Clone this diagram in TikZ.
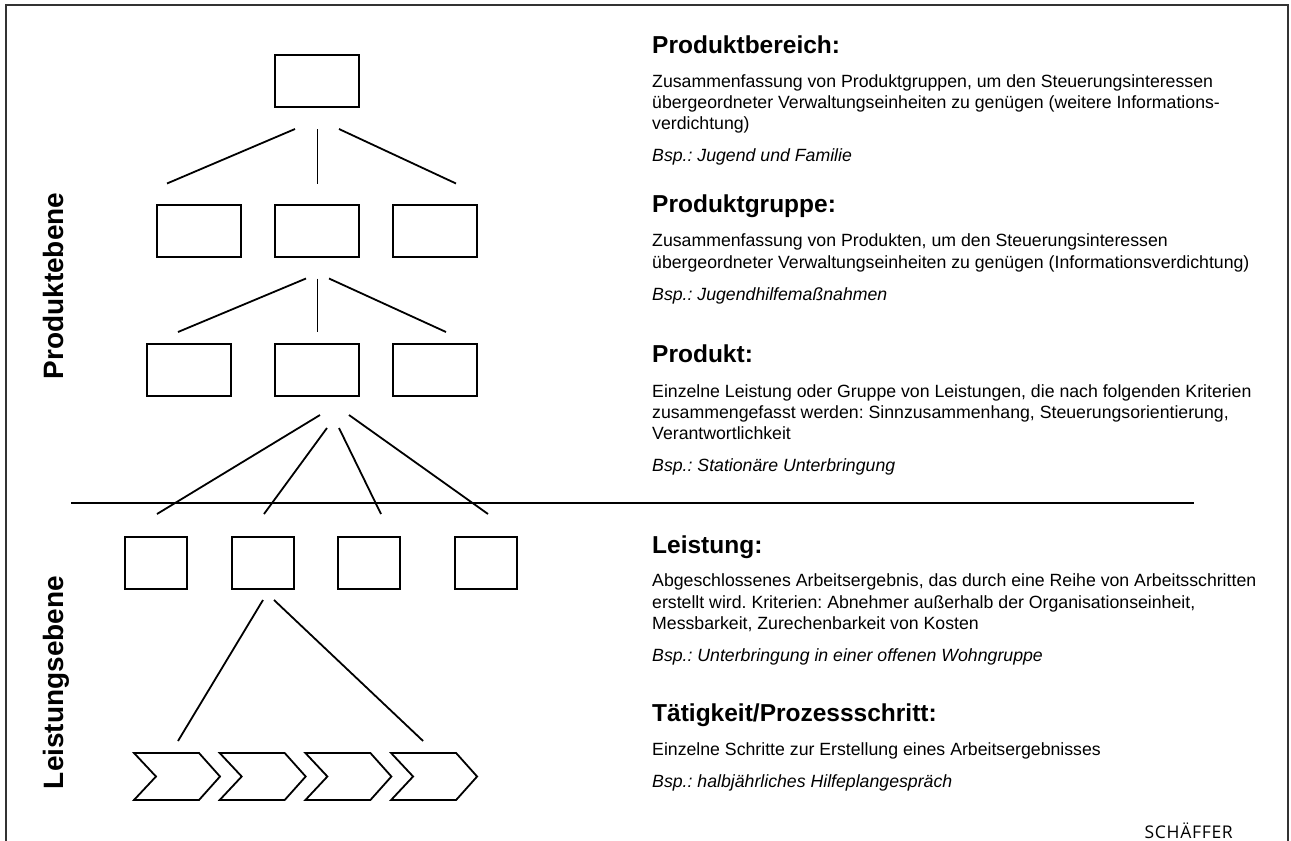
\documentclass[tikz,border=0pt]{standalone}
\usepackage{fontspec}
\setmainfont{Liberation Sans}
\newfontfamily\bodyfont{Liberation Sans}
\newfontfamily\logofont[LetterSpace=4]{Open Sans}
\usetikzlibrary{calc}
\frenchspacing

\begin{document}
\begin{tikzpicture}[x=1pt,y=-1pt,
  box/.style={draw=black,line width=2pt,inner sep=0pt,minimum width=84pt,minimum height=52pt},
  smallbox/.style={box,minimum width=62pt},
  link/.style={line width=1.8pt},
  chevron/.style={line width=1.8pt,line join=miter},
  heading/.style={anchor=base west,inner sep=0pt,font=\fontsize{24.5}{28}\selectfont\bfseries},
  body/.style={anchor=base west,inner sep=0pt,font=\bodyfont\fontsize{17.7}{21}\selectfont},
  example/.style={anchor=base west,inner sep=0pt,font=\bodyfont\fontsize{17.7}{21}\selectfont\itshape},
  level/.style={rotate=90,anchor=base,inner sep=0pt,font=\fontsize{28}{32}\selectfont\bfseries},
  logo/.style={anchor=base east,inner sep=0pt,font=\logofont\fontsize{17.5}{20}\selectfont},
]
\useasboundingbox (0,0) rectangle (1291,841);

% frame, open at the bottom
\draw[line width=2pt,black!80] (6,841) -- (6,5) -- (1288,5) -- (1288,841);

% level labels
\node[level] (pe) at (63,286) {Produktebene};
\node[level] (le) at (63,682.5) {Leistungsebene};

% hierarchy boxes
\node[box] (pb) at (317,81) {};
\node[box] (pg1) at (199,230.5) {};
\node[box] (pg2) at (317,230.5) {};
\node[box] (pg3) at (435,230.5) {};
\node[box] (p1) at (189,370) {};
\node[box] (p2) at (317,370) {};
\node[box] (p3) at (435,370) {};
\node[smallbox] (l1) at (156,562.5) {};
\node[smallbox] (l2) at (262.5,562.5) {};
\node[smallbox] (l3) at (369,562.5) {};
\node[smallbox] (l4) at (486,562.5) {};

% process steps
\foreach \i/\x in {1/134,2/219.7,3/305.4,4/391.1}{
  \draw[chevron] (\x,753) -- ++(65,0) -- ++(21,23.5) -- ++(-21,23.5)
    -- ++(-65,0) -- ++(22,-23.5) -- cycle;
  \coordinate (c\i) at (\x+43,776.5);
}

% connectors
\draw[link] ($(pb.south)+(-22,21)$) -- ($(pg1.north)+(-32,-20)$);
\draw[link] ($(pb.south)+(0.5,21)$) -- ($(pg2.north)+(0.5,-20)$);
\draw[link] ($(pb.south)+(22,21)$) -- ($(pg3.north)+(21,-20)$);

\draw[link] ($(pg2.south)+(-11,21)$) -- ($(p1.north)+(-11,-11)$);
\draw[link] ($(pg2.south)+(0.5,21)$) -- ($(p2.north)+(0.5,-11)$);
\draw[link] ($(pg2.south)+(12,21)$) -- ($(p3.north)+(11,-11)$);

\draw[link] ($(p2.south)+(3,18)$) -- ($(l1.north)+(1,-21.5)$);
\draw[link] ($(p2.south)+(10,31)$) -- ($(l2.north)+(1.5,-21.5)$);
\draw[link] ($(p2.south)+(22,31)$) -- ($(l3.north)+(12,-21.5)$);
\draw[link] ($(p2.south)+(32,18)$) -- ($(l4.north)+(2,-21.5)$);

\draw[link] ($(l2.south)+(0.5,10.5)$) -- ($(c1)+(1,-35.5)$);
\draw[link] ($(l2.south)+(11.5,10.5)$) -- ($(c4)+(-11,-35.5)$);

% separation between product and service level
\coordinate (ruleL) at (71,503);
\coordinate (ruleR) at (1194,503);
\draw[line width=2pt] (ruleL) -- (ruleR);

% descriptions
\node[heading] (h1) at (652,53.3) {Produktbereich:};
\node[body] (t11) at (652,87.3) {Zusammenfassung von Produktgruppen, um den Steuerungsinteressen};
\node[body] (t12) at (652,108.3) {übergeordneter Verwaltungseinheiten zu genügen (weitere Informations-};
\node[body] (t13) at (652,129.3) {verdichtung)};
\node[example] (e1) at (652,161.7) {Bsp.: Jugend und Familie};

\node[heading] (h2) at (652,212.3) {Produktgruppe:};
\node[body] (t21) at (652,246.7) {Zusammenfassung von Produkten, um den Steuerungsinteressen};
\node[body] (t22) at (652,268.3) {übergeordneter Verwaltungseinheiten zu genügen (Informationsverdichtung)};
\node[example] (e2) at (652,300) {Bsp.: Jugendhilfemaßnahmen};

\node[heading] (h3) at (652,362.7) {Produkt:};
\node[body] (t31) at (652,397.3) {Einzelne Leistung oder Gruppe von Leistungen, die nach folgenden Kriterien};
\node[body] (t32) at (652,418) {zusammengefasst werden: Sinnzusammenhang, Steuerungsorientierung,};
\node[body] (t33) at (652,439.3) {Verantwortlichkeit};
\node[example] (e3) at (652,471.7) {Bsp.: Stationäre Unterbringung};

\node[heading] (h4) at (652,553.3) {Leistung:};
\node[body] (t41) at (652,586.7) {Abgeschlossenes Arbeitsergebnis, das durch eine Reihe von Arbeitsschritten};
\node[body] (t42) at (652,608) {erstellt wird. Kriterien: Abnehmer außerhalb der Organisationseinheit,};
\node[body] (t43) at (652,629.3) {Messbarkeit, Zurechenbarkeit von Kosten};
\node[example] (e4) at (652,661.7) {Bsp.: Unterbringung in einer offenen Wohngruppe};

\node[heading] (h5) at (652,721.7) {Tätigkeit/Prozessschritt:};
\node[body] (t51) at (652,755.7) {Einzelne Schritte zur Erstellung eines Arbeitsergebnisses};
\node[example] (e5) at (652,787.3) {Bsp.: halbjährliches Hilfeplangespräch};

\node[logo] (logo) at (1233,838) {SCHÄFFER};
\end{tikzpicture}
\end{document}
